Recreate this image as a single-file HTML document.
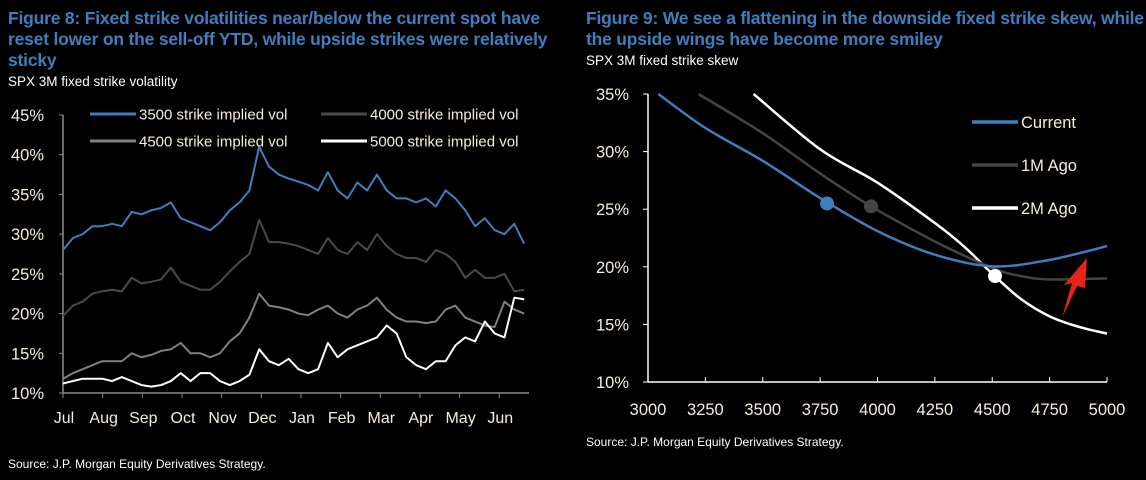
<!DOCTYPE html>
<html><head><meta charset="utf-8"><style>
body{margin:0;background:#000;width:1146px;height:480px;overflow:hidden;font-family:"Liberation Sans",sans-serif}
.t{position:absolute;color:#3f7fbf;font-weight:bold;font-size:17.5px;line-height:21px;letter-spacing:-0.2px}
.s{position:absolute;color:#fff;font-size:13.5px}
svg{position:absolute;left:0;top:0}
svg text{font-family:"Liberation Sans",sans-serif;fill:#f6eedc}
</style></head><body>
<div class="t" style="left:8px;top:8px;width:550px">Figure 8: Fixed strike volatilities near/below the current spot have reset lower on the sell-off YTD, while upside strikes were relatively sticky</div>
<div class="s" style="left:8px;top:74px">SPX 3M fixed strike volatility</div>
<div class="t" style="left:586px;top:8px;width:560px;white-space:nowrap">Figure 9: We see a flattening in the downside fixed strike skew, while<br>the upside wings have become more smiley</div>
<div class="s" style="left:586px;top:53px">SPX 3M fixed strike skew</div>
<div class="s" style="left:8px;top:457px;font-size:12px">Source: J.P. Morgan Equity Derivatives Strategy.</div>
<div class="s" style="left:586px;top:435px;font-size:12px">Source: J.P. Morgan Equity Derivatives Strategy.</div>
<svg id="c" width="1146" height="480"></svg>
<script>
const months=["Jul","Aug","Sep","Oct","Nov","Dec","Jan","Feb","Mar","Apr","May","Jun"];
const yTicksL=[10,15,20,25,30,35,40,45];
const s3500=[28,29.5,30,31,31,31.3,31,32.8,32.5,33,33.3,34,32,31.5,31,30.5,31.5,33,34,35.5,41,38.5,37.5,37,36.6,36.2,35.5,37.8,35.5,34.5,36.5,35.5,37.5,35.5,34.5,34.5,34,34.5,33.5,35.5,34.5,33,31,32,30.5,30,31.3,28.8];
const s4000=[19.7,21,21.5,22.5,22.8,23,22.8,24.5,23.8,24,24.3,25.8,24,23.5,23,23,24,25.3,26.5,27.5,31.8,29,29,28.8,28.5,28,27.5,29.5,28,27.5,29,28,30,28.5,27.5,27,27,26.5,28,27.5,26.5,24.5,25.5,24.5,24.5,25,22.8,23];
const s4500=[11.8,12.5,13,13.5,14,14,14,15,14.5,14.8,15.3,15.5,16.3,15,15,14.5,15,16.5,17.5,19.5,22.5,21,20.8,20.5,20,19.8,20.5,21,20,19.5,20.5,21,22,20.5,19.5,19,19,18.8,19,20.5,21,19.5,19,18.5,18.3,21.5,20.5,20];
const s5000=[11.2,11.5,11.8,11.8,11.8,11.5,12,11.5,11,10.8,11,11.5,12.5,11.5,12.5,12.5,11.5,11,11.5,12.3,15.5,14,13.5,14.3,13,12.5,13,16.3,14.5,15.5,16,16.5,17,18.5,17.5,14.5,13.5,13,14,14,16,17,16.5,19,17.5,17,22,21.8];
const strikes=[3000,3250,3500,3750,4000,4250,4500,4750,5000];
const yTicksR=[10,15,20,25,30,35];
const curK=[3045,3250,3500,3750,4000,4250,4500,4750,5000];
const curV=[35,32.05,29.2,25.97,23.1,21.05,20.04,20.6,21.8];
const m1K=[3220,3500,3750,3972,4250,4500,4625,4750,5000];
const m1V=[35,31.6,28.1,25.25,22.2,19.9,19.2,18.9,19.0];
const m2K=[3460,3750,4000,4250,4375,4500,4625,4750,4875,5000];
const m2V=[35,30.2,27.3,23.8,21.8,19.4,17.2,15.7,14.8,14.2];
const dotK=[3780,3972,4512];const dotV=[25.5,25.25,19.2];

const svg=document.getElementById('c');const NS='http://www.w3.org/2000/svg';
function mk(t,a,p){const e=document.createElementNS(NS,t);for(const k in a)e.setAttribute(k,a[k]);(p||svg).appendChild(e);return e;}
const lx0=63,lx1=529,ly0=393,ly1=115;
const lx=i=>lx0+i*(lx1-lx0)/(s3500.length-1+0.5);
const ly=v=>ly0-(v-10)/35*(ly0-ly1);
let a=mk('line',{x1:lx0,y1:ly1,x2:lx0,y2:ly0,stroke:'#8a8a8a','stroke-width':1.5});

a=mk('line',{x1:lx0,y1:ly0,x2:lx1,y2:ly0,stroke:'#8a8a8a','stroke-width':1.5});

yTicksL.forEach(v=>{mk('line',{x1:lx0-4,x2:lx0,y1:ly(v),y2:ly(v),stroke:'#8a8a8a'});
 const t=mk('text',{x:44,y:ly(v)+6,'text-anchor':'end','font-size':16.5});t.textContent=v+'%';
 });
const mstep=(lx1-lx0)/11.75;
months.forEach((m,i)=>{const x=lx0+i*mstep;mk('line',{x1:x,x2:x,y1:ly0,y2:ly0+5,stroke:'#8a8a8a'});
 const t=mk('text',{x:x+1,y:423,'text-anchor':'middle','font-size':16});t.textContent=m;
 });
function series(arr,col,name){const p=mk('polyline',{points:arr.map((v,i)=>lx(i)+','+ly(v)).join(' '),fill:'none',stroke:col,'stroke-width':2,'stroke-linejoin':'round'});
 }
series(s4500,'#808080','series-4500');series(s4000,'#4a4a4a','series-4000');series(s5000,'#fff','series-5000');series(s3500,'#3f7fbf','series-3500');
[[90,114,'#3f7fbf','3500 strike implied vol'],[321,114,'#4a4a4a','4000 strike implied vol'],[90,141,'#808080','4500 strike implied vol'],[321,141,'#fff','5000 strike implied vol']].forEach(l=>{
 const g=mk('g',{});
 mk('line',{x1:l[0],x2:l[0]+46,y1:l[1],y2:l[1],stroke:l[2],'stroke-width':3},g);
 const t=mk('text',{x:l[0]+49,y:l[1]+5.5,'font-size':15},g);t.textContent=l[3];});
const rx0=648,rx1=1107,ry0=382,ry1=94;
const rx=k=>rx0+(k-3000)/2000*(rx1-rx0);
const ry=v=>ry0-(v-10)/25*(ry0-ry1);
a=mk('line',{x1:rx0,y1:ry1,x2:rx0,y2:ry0,stroke:'#fff','stroke-width':1.5});

a=mk('line',{x1:rx0,y1:ry0,x2:rx1,y2:ry0,stroke:'#fff','stroke-width':1.5});

yTicksR.forEach(v=>{mk('line',{x1:rx0-5,x2:rx0,y1:ry(v),y2:ry(v),stroke:'#fff'});
 const t=mk('text',{x:629,y:ry(v)+6,'text-anchor':'end','font-size':16.5});t.textContent=v+'%';
 });
strikes.forEach(k=>{mk('line',{x1:rx(k),x2:rx(k),y1:ry0,y2:ry0-5,stroke:'#fff'});
 const t=mk('text',{x:rx(k),y:415,'text-anchor':'middle','font-size':16.5});t.textContent=k;
 });
function curve(K,V,col,name){let pts=K.map((k,i)=>[rx(k),ry(V[i])]);let d='M'+pts[0];
 for(let i=0;i<pts.length-1;i++){const p0=pts[Math.max(0,i-1)],p1=pts[i],p2=pts[i+1],p3=pts[Math.min(pts.length-1,i+2)];
  d+=' C'+(p1[0]+(p2[0]-p0[0])/6)+','+(p1[1]+(p2[1]-p0[1])/6)+' '+(p2[0]-(p3[0]-p1[0])/6)+','+(p2[1]-(p3[1]-p1[1])/6)+' '+p2;}
 const p=mk('path',{d:d,fill:'none',stroke:col,'stroke-width':2.5});}
curve(m2K,m2V,'#fff','curve-2m-ago');curve(m1K,m1V,'#444','curve-1m-ago');curve(curK,curV,'#3f7fbf','curve-current');
['#3f7fbf','#444','#fff'].forEach((c,i)=>{const d=mk('circle',{cx:rx(dotK[i]),cy:ry(dotV[i]),r:7,fill:c});
 });
[[122,'#3f7fbf','Current'],[165,'#444','1M Ago'],[208,'#fff','2M Ago']].forEach(l=>{
 const g=mk('g',{});
 mk('line',{x1:972,x2:1018,y1:l[0],y2:l[0],stroke:l[1],'stroke-width':3.5},g);
 const t=mk('text',{x:1021,y:l[0]+6,'font-size':16.5},g);t.textContent=l[2];});
a=mk('polygon',{points:'1062,318 1072,283 1064,285 1087,258 1085,288 1077,286',fill:'#e8231b'});

</script>
</body></html>
